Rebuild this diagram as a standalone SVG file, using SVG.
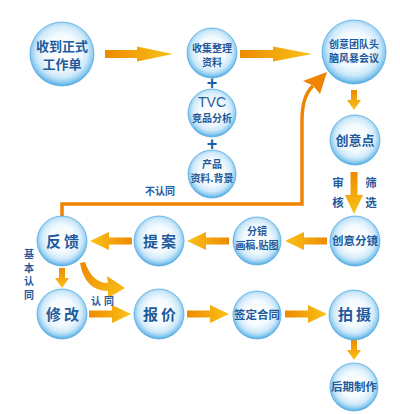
<svg xmlns="http://www.w3.org/2000/svg" width="400" height="414" viewBox="0 0 400 414">
<defs>
<radialGradient id="ball" cx="50%" cy="46%" r="54%">
<stop offset="0" stop-color="#FFFFFF"/>
<stop offset="0.5" stop-color="#F3FAFE"/>
<stop offset="0.75" stop-color="#CFE9F9"/>
<stop offset="0.9" stop-color="#8CCBF0"/>
<stop offset="1" stop-color="#4DA6E0"/>
</radialGradient>
<linearGradient id="arr" x1="0" y1="0" x2="1" y2="0">
<stop offset="0" stop-color="#EE8A00"/>
<stop offset="1" stop-color="#F9C318"/>
</linearGradient>
<linearGradient id="arr2" x1="0" y1="0" x2="1" y2="1">
<stop offset="0" stop-color="#F08400"/>
<stop offset="1" stop-color="#F9C318"/>
</linearGradient>
<path id="a42" d="M0,-3.5 H23 V-9 L42,0 L23,9 V3.5 H0 Z"/>
<path id="a20" d="M0,-3 H10 V-7 L20,0 L10,7 V3 H0 Z"/>
</defs>
<style>
.c{fill:url(#ball);stroke:#58ADE3;stroke-width:0.8}
.t{font-family:"Noto Sans CJK SC","Noto Sans",sans-serif;fill:#1E5A9C;text-anchor:middle;font-weight:bold}
.s{font-size:10px}
.m{font-size:11.5px}
.b{font-size:15px;letter-spacing:3px}
.a{fill:url(#arr)}
.plus{font-family:"Liberation Sans",sans-serif;font-weight:bold;font-size:18px;fill:#1B5EA6;text-anchor:middle}
</style>
<rect width="400" height="414" fill="#FFFFFF"/>

<g id="connectors">
<path class="a" d="M105,50 H137 V46.5 L173,54 L137,61.5 V58 H105 Z"/>
<path class="a" d="M240,50 H273 V46.5 L312,54 L273,61.5 V58 H240 Z"/>
<use href="#a20" class="a" transform="translate(354,90) rotate(90)"/>
<use href="#a42" class="a" transform="translate(354,172) rotate(90)"/>
<use href="#a42" class="a" transform="translate(327,241) rotate(180)"/>
<use href="#a42" class="a" transform="translate(229,241) rotate(180)"/>
<use href="#a42" class="a" transform="translate(132,241) rotate(180)"/>
<use href="#a20" class="a" transform="translate(62,268) rotate(90)"/>
<use href="#a42" class="a" transform="translate(89,314)"/>
<use href="#a42" class="a" transform="translate(187,314)"/>
<use href="#a42" class="a" transform="translate(285,314)"/>
<use href="#a20" class="a" transform="translate(354,340) rotate(90)"/>
<path fill="url(#arr2)" d="M80,263 Q85,291 108,291 L108,298 L125,288 L107,276 L108,283 Q92,283 85,262 Z"/>
<path d="M62,217 V204 H302 V120 Q302,96 313,86" fill="none" stroke="#F08300" stroke-width="3.5"/>
<path d="M327,72 L303,81 L313,85.5 L320,94 Z" fill="#F08300"/>
<text class="t s" x="160" y="195">不认同</text>
<text class="t s" x="29" y="258">基</text>
<text class="t s" x="29" y="271.5">本</text>
<text class="t s" x="29" y="285">认</text>
<text class="t s" x="29" y="298.5">同</text>
<text class="t s" x="104" y="305" style="letter-spacing:3px">认同</text>
<text class="t m" x="338" y="187">审</text>
<text class="t m" x="338" y="207">核</text>
<text class="t m" x="371" y="187">筛</text>
<text class="t m" x="371" y="207">选</text>
<text class="plus" x="212" y="89">+</text>
<text class="plus" x="212" y="150">+</text>
</g>

<g id="n1"><circle class="c" cx="62" cy="54" r="32"/>
<text class="t" style="font-size:13px" x="62" y="51">收到正式</text>
<text class="t" style="font-size:13px" x="62" y="69">工作单</text></g>

<g id="n2"><circle class="c" cx="212" cy="53" r="25"/>
<text class="t s" x="212" y="52">收集整理</text>
<text class="t s" x="212" y="65.5">资料</text></g>

<g id="n3"><circle class="c" cx="212" cy="113" r="24"/>
<text class="t" style="font-family:'Liberation Sans',sans-serif;font-size:14px;font-weight:normal" x="212" y="107">TVC</text>
<text class="t s" x="212" y="122">竞品分析</text></g>

<g id="n4"><circle class="c" cx="212" cy="174" r="24"/>
<text class="t s" x="212" y="168">产品</text>
<text class="t s" x="212" y="181.5">资料.背景</text></g>

<g id="n5"><circle class="c" cx="354" cy="52" r="32"/>
<text class="t s" x="354" y="48">创意团队头</text>
<text class="t s" x="354" y="61.5">脑风暴会议</text></g>

<g id="n6"><circle class="c" cx="355" cy="140" r="25"/>
<text class="t" style="font-size:13px" x="355" y="145">创意点</text></g>

<g id="n7"><circle class="c" cx="355" cy="241" r="25"/>
<text class="t m" x="355" y="245">创意分镜</text></g>

<g id="n8"><circle class="c" cx="257" cy="241" r="24"/>
<text class="t s" x="257" y="235">分镜</text>
<text class="t s" x="257" y="248.5">画稿.贴图</text></g>

<g id="n9"><circle class="c" cx="159" cy="241" r="25"/>
<text class="t b" x="161" y="247">提案</text></g>

<g id="n10"><circle class="c" cx="62" cy="241" r="25"/>
<text class="t b" x="64" y="247">反馈</text></g>

<g id="n11"><circle class="c" cx="62" cy="314" r="25"/>
<text class="t b" x="64" y="320">修改</text></g>

<g id="n12"><circle class="c" cx="159" cy="314" r="25"/>
<text class="t b" x="161" y="320">报价</text></g>

<g id="n13"><circle class="c" cx="257" cy="315" r="24"/>
<text class="t m" x="257" y="319">签定合同</text></g>

<g id="n14"><circle class="c" cx="354" cy="315" r="25"/>
<text class="t b" x="356" y="320">拍摄</text></g>

<g id="n15"><circle class="c" cx="354" cy="387" r="24"/>
<text class="t m" x="354" y="391">后期制作</text></g>
</svg>
